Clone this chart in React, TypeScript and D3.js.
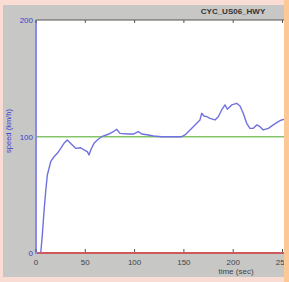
import React from "react";
import * as d3 from "d3";

const title = "CYC_US06_HWY";
const xTicks = [0, 50, 100, 150, 200, 250];
const yTicks = [0, 100, 200];
const timeSec = [0, 4.8, 6.4, 8.1, 9.8, 11.5, 14.9, 18.3, 21.6, 25.1, 28.4, 31.7, 36.8, 40.3, 45.3, 48.7, 52.0, 53.8, 55.5, 58.8, 62.2, 66.6, 73.3, 78.4, 81.8, 85.2, 93.6, 98.7, 103.8, 107.2, 113.9, 119.0, 127.5, 137.6, 144.3, 147.8, 151.1, 156.2, 161.3, 163.0, 166.3, 168.0, 170.4, 173.1, 176.5, 181.5, 184.9, 188.3, 191.7, 194.0, 198.5, 203.5, 206.9, 210.2, 213.7, 217.0, 220.4, 223.8, 227.2, 230.5, 235.6, 240.7, 245.7, 249.2, 252];
const speedKmh = [0, 0, 15.5, 35.5, 52.7, 67.1, 78.5, 82.8, 85.7, 90.0, 94.3, 97.2, 92.9, 90.0, 90.5, 88.6, 87.1, 84.3, 88.6, 94.3, 97.2, 100, 102.1, 104.3, 106.4, 102.9, 102.3, 102.3, 104.3, 102.3, 101.5, 100.6, 100, 100, 100, 100, 101.5, 105.8, 110.1, 111.5, 114.4, 120.1, 117.8, 117.2, 115.8, 114.4, 117.2, 123.0, 127.3, 123.6, 127.3, 128.7, 126.4, 120.1, 111.5, 107.2, 107.2, 110.1, 108.6, 105.8, 107.2, 110.1, 112.9, 114.4, 115];
const refSpeed = 100;

export default function App() {
  const W = 289, H = 282;
  const x = d3.scaleLinear().domain([0, 250]).range([36, 282.5]);
  const y = d3.scaleLinear().domain([0, 200]).range([253, 20.4]);
  const pts = timeSec.map((t, i) => [t, speedKmh[i]] as [number, number]);
  const line = d3.line<[number, number]>().x(d => x(d[0])).y(d => y(d[1]));
  const font = "Liberation Sans, Arial, sans-serif";
  return (
    <svg width={W} height={H} style={{ position: "absolute", left: 0, top: 0 }} fontFamily={font}>
      <rect x={0} y={0} width={W} height={H} fill="#f9dcd4" />
      <rect x={3} y={5} width={281} height={272} fill="#c7c7c5" />
      <defs>
        <clipPath id="pa"><rect x={36} y={20} width={248} height={233} /></clipPath>
      </defs>
      <rect x={36} y={20} width={248} height={233} fill="#ffffff" />
      <g clipPath="url(#pa)">
        <line x1={36} x2={284} y1={y(refSpeed)} y2={y(refSpeed)} stroke="#86c46a" strokeWidth={1.5} />
        <path d={line(pts) || ""} fill="none" stroke="#7070e0" strokeWidth={1.4} strokeLinejoin="round" />
      </g>
      <line x1={36} x2={284} y1={y(0)} y2={y(0)} stroke="#cc5a5a" strokeWidth={2} />
      <line x1={36} x2={284} y1={20} y2={20} stroke="#555" strokeWidth={1} />
      <line x1={36} x2={36} y1={20} y2={254} stroke="#8a8aec" strokeWidth={2} />
      {xTicks.map(t => (
        <g key={t}>
          <line x1={x(t)} x2={x(t)} y1={20} y2={23} stroke="#555" />
          <line x1={x(t)} x2={x(t)} y1={252} y2={249} stroke="#555" />
          <text x={x(t)} y={265} fontSize={8} fill="#444" textAnchor="middle">{t}</text>
        </g>
      ))}
      {yTicks.map(t => (
        <text key={t} x={33} y={y(t) + 3} fontSize={8} fill="#3c3cd0" textAnchor="end">{t}</text>
      ))}
      <text x={236} y={274} fontSize={8} fill="#444" textAnchor="middle">time (sec)</text>
      <text transform="translate(11,131) rotate(-90)" fontSize={7.5} fill="#3c3cd0" textAnchor="middle">speed (km/h)</text>
      <text x={233} y={14} fontSize={8} fontWeight="bold" fill="#333" textAnchor="middle">{title}</text>
      <rect x={284} y={0} width={5} height={H} fill="#fcc896" />
    </svg>
  );
}
